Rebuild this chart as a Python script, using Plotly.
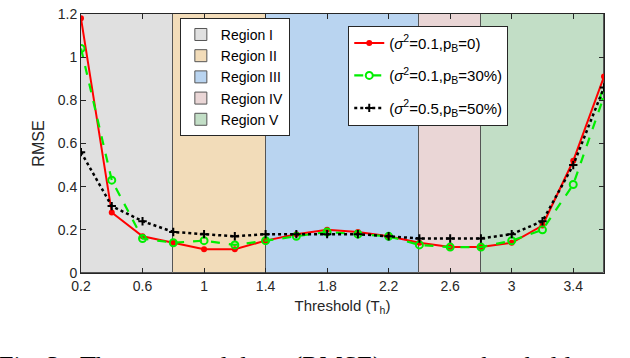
import plotly.graph_objects as go

THRESHOLD = [0.2, 0.4, 0.6, 0.8, 1.0, 1.2, 1.4, 1.6, 1.8, 2.0, 2.2, 2.4, 2.6, 2.8, 3.0, 3.2, 3.4, 3.6]

RMSE_S01_P0 = [1.18, 0.28, 0.17, 0.14, 0.11, 0.11, 0.15, 0.18, 0.20, 0.19, 0.17, 0.14, 0.12, 0.12, 0.14, 0.22, 0.52, 0.91]
RMSE_S01_P30 = [1.04, 0.43, 0.16, 0.14, 0.15, 0.13, 0.15, 0.17, 0.19, 0.18, 0.17, 0.13, 0.12, 0.12, 0.15, 0.20, 0.41, 0.82]
RMSE_S05_P50 = [0.56, 0.31, 0.24, 0.19, 0.18, 0.17, 0.18, 0.18, 0.18, 0.18, 0.17, 0.16, 0.16, 0.16, 0.18, 0.24, 0.50, 0.86]

REGION_NAMES = ["Region I", "Region II", "Region III", "Region IV", "Region V"]
REGION_EDGES = [0.2, 0.8, 1.4, 2.4, 2.8, 3.6]
REGION_COLORS = ["#e0e0e0", "#f2dcb9", "#b9d4f0", "#ead6d6", "#c2dec6"]

Y_MAX = 1.2

fig = go.Figure()

# shaded regions drawn as full-height bars
for name, x0, x1, color in zip(REGION_NAMES, REGION_EDGES[:-1], REGION_EDGES[1:], REGION_COLORS):
    fig.add_trace(go.Bar(
        x=[(x0 + x1) / 2], y=[Y_MAX], width=[x1 - x0], name=name,
        marker=dict(color=color, line=dict(color="#555555", width=1)),
        legend="legend", hoverinfo="skip",
    ))

fig.add_trace(go.Scatter(
    x=THRESHOLD, y=RMSE_S01_P0, mode="lines+markers",
    name="(<i>σ</i><sup>2</sup>=0.1,p<sub>B</sub>=0)",
    line=dict(color="#ff0000", width=2),
    marker=dict(symbol="circle", size=6, color="#ff0000"),
    legend="legend2", legendgroup="a",
))
fig.add_trace(go.Scatter(
    x=THRESHOLD, y=RMSE_S01_P30, mode="lines+markers",
    name="(<i>σ</i><sup>2</sup>=0.1,p<sub>B</sub>=30%)",
    line=dict(color="#00ee00", width=2.2, dash="dash"),
    marker=dict(symbol="circle-open", size=7, color="#00ee00", line=dict(width=2)),
    legend="legend2", legendgroup="b",
))
fig.add_trace(go.Scatter(
    x=THRESHOLD, y=RMSE_S05_P50, mode="lines+markers",
    name="(<i>σ</i><sup>2</sup>=0.5,p<sub>B</sub>=50%)",
    line=dict(color="#000000", width=2.5, dash="dot"),
    marker=dict(symbol="cross-thin", size=6, color="#000000", line=dict(width=2, color="#000000")),
    legend="legend2", legendgroup="c",
))

axis_style = dict(
    showline=True, mirror="ticks", linecolor="#262626", linewidth=1,
    ticks="inside", ticklen=5, tickcolor="#262626", showgrid=False, zeroline=False,
    ticklabeloverflow="allow",
    tickfont=dict(family="Liberation Sans, Arial", size=14, color="#262626"),
)

fig.update_layout(
    width=630, height=358,
    margin=dict(l=81, r=26, t=6, b=85),
    plot_bgcolor="white", paper_bgcolor="white",
    barmode="overlay", bargap=0,
    font=dict(family="Liberation Sans, Arial", size=14, color="#262626"),
    xaxis=dict(axis_style, range=[0.2, 3.6], tickvals=[0.2, 0.6, 1, 1.4, 1.8, 2.2, 2.6, 3, 3.4],
               title=dict(text="Threshold (T<sub>h</sub>)", standoff=7,
                          font=dict(family="Liberation Sans, Arial", size=15, color="#262626"))),
    yaxis=dict(axis_style, range=[0, Y_MAX], tickvals=[0, 0.2, 0.4, 0.6, 0.8, 1, 1.2],
               ticktext=["0", "0.2", "0.4", "0.6", "0.8", "1", "1.2"],
               title=dict(text="RMSE", standoff=9,
                          font=dict(family="Liberation Sans, Arial", size=16, color="#262626"))),
    legend=dict(x=0.189, y=0.985, xanchor="left", yanchor="top", bgcolor="white",
                bordercolor="#262626", borderwidth=1, tracegroupgap=0,
                font=dict(size=14, color="#000000"), itemwidth=30),
    legend2=dict(x=0.511, y=0.955, xanchor="left", yanchor="top", bgcolor="white",
                 bordercolor="#262626", borderwidth=1, tracegroupgap=10,
                 font=dict(size=15, color="#000000"), itemwidth=30),
    showlegend=True,
)

fig.add_annotation(
    text="Fig.\u00a03:\u00a0\u00a0The\u00a0\u00a0averaged\u00a0\u00a0loss\u00a0\u00a0(RMSE)\u00a0\u00a0versus\u00a0\u00a0threshold\u00a0\u00a0up",
    xref="paper", yref="paper", x=-0.16, y=-0.292, xanchor="left", yanchor="top",
    showarrow=False, font=dict(family="Liberation Serif, Times New Roman", size=26, color="#000000"),
)

fig.write_html("out.html", config={"displayModeBar": False},
               post_script="document.body.style.margin='0';")
